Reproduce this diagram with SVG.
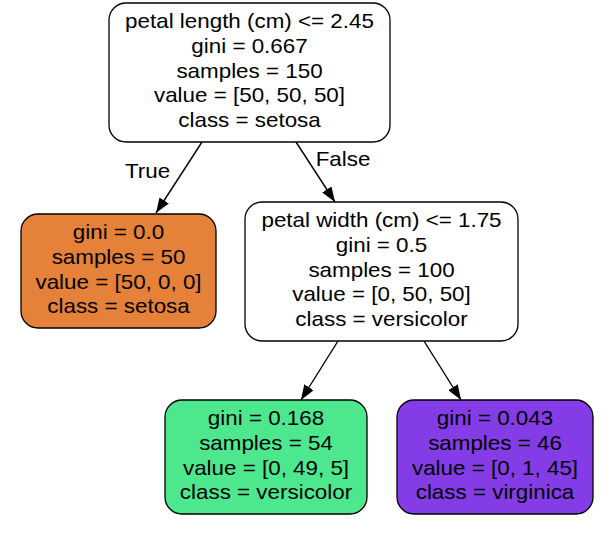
<svg xmlns="http://www.w3.org/2000/svg" width="616" height="535" viewBox="0 0 616 535">
<defs>
<style>
.box{stroke:#000;stroke-width:1.3}
.t{font-family:"Liberation Sans",Arial,sans-serif;font-size:20px;text-anchor:middle;fill:#000}
.edge{stroke:#000;stroke-width:1.4;fill:none}
</style>
<marker id="ah" markerUnits="userSpaceOnUse" markerWidth="15" markerHeight="11" refX="15" refY="5.5" orient="auto" viewBox="0 0 15 11">
<path d="M0,0 L15,5.5 L0,11 Z" fill="#000"/>
</marker>
</defs>
<rect width="616" height="535" fill="#fff"/>
<g id="edges">
<line class="edge" x1="202" y1="142" x2="156" y2="213" marker-end="url(#ah)"/>
<line class="edge" x1="296" y1="142" x2="335" y2="202" marker-end="url(#ah)"/>
<line class="edge" x1="338" y1="341" x2="301" y2="400" marker-end="url(#ah)"/>
<line class="edge" x1="424" y1="341" x2="461" y2="400" marker-end="url(#ah)"/>
<g transform="translate(147.5 0) scale(1.12 1)"><text class="t" x="0" y="178">True</text></g>
<g transform="translate(343 0) scale(1.12 1)"><text class="t" x="0" y="166.5">False</text></g>
</g>
<g id="node0">
<rect class="box" x="109" y="3" width="281" height="139" rx="17" fill="#fff"/>
<g transform="translate(249.5 0) scale(1.12 1)">
<text class="t" x="0" y="28.4">petal length (cm) &lt;= 2.45</text>
<text class="t" x="0" y="53.1">gini = 0.667</text>
<text class="t" x="0" y="77.8">samples = 150</text>
<text class="t" x="0" y="102.5">value = [50, 50, 50]</text>
<text class="t" x="0" y="127.2">class = setosa</text>
</g>
</g>
<g id="node1">
<rect class="box" x="21" y="214" width="195" height="114" rx="17" fill="#e58139"/>
<g transform="translate(118.5 0) scale(1.12 1)">
<text class="t" x="0" y="239.3">gini = 0.0</text>
<text class="t" x="0" y="264">samples = 50</text>
<text class="t" x="0" y="288.7">value = [50, 0, 0]</text>
<text class="t" x="0" y="313.4">class = setosa</text>
</g>
</g>
<g id="node2">
<rect class="box" x="245" y="202" width="273" height="139" rx="17" fill="#fff"/>
<g transform="translate(381.5 0) scale(1.12 1)">
<text class="t" x="0" y="227.4">petal width (cm) &lt;= 1.75</text>
<text class="t" x="0" y="252.1">gini = 0.5</text>
<text class="t" x="0" y="276.8">samples = 100</text>
<text class="t" x="0" y="301.5">value = [0, 50, 50]</text>
<text class="t" x="0" y="326.2">class = versicolor</text>
</g>
</g>
<g id="node3">
<rect class="box" x="165" y="400" width="202" height="114" rx="17" fill="#4de88e"/>
<g transform="translate(266 0) scale(1.12 1)">
<text class="t" x="0" y="425.3">gini = 0.168</text>
<text class="t" x="0" y="450">samples = 54</text>
<text class="t" x="0" y="474.7">value = [0, 49, 5]</text>
<text class="t" x="0" y="499.4">class = versicolor</text>
</g>
</g>
<g id="node4">
<rect class="box" x="397" y="400" width="196" height="114" rx="17" fill="#843de6"/>
<g transform="translate(495 0) scale(1.12 1)">
<text class="t" x="0" y="425.3">gini = 0.043</text>
<text class="t" x="0" y="450">samples = 46</text>
<text class="t" x="0" y="474.7">value = [0, 1, 45]</text>
<text class="t" x="0" y="499.4">class = virginica</text>
</g>
</g>
</svg>
